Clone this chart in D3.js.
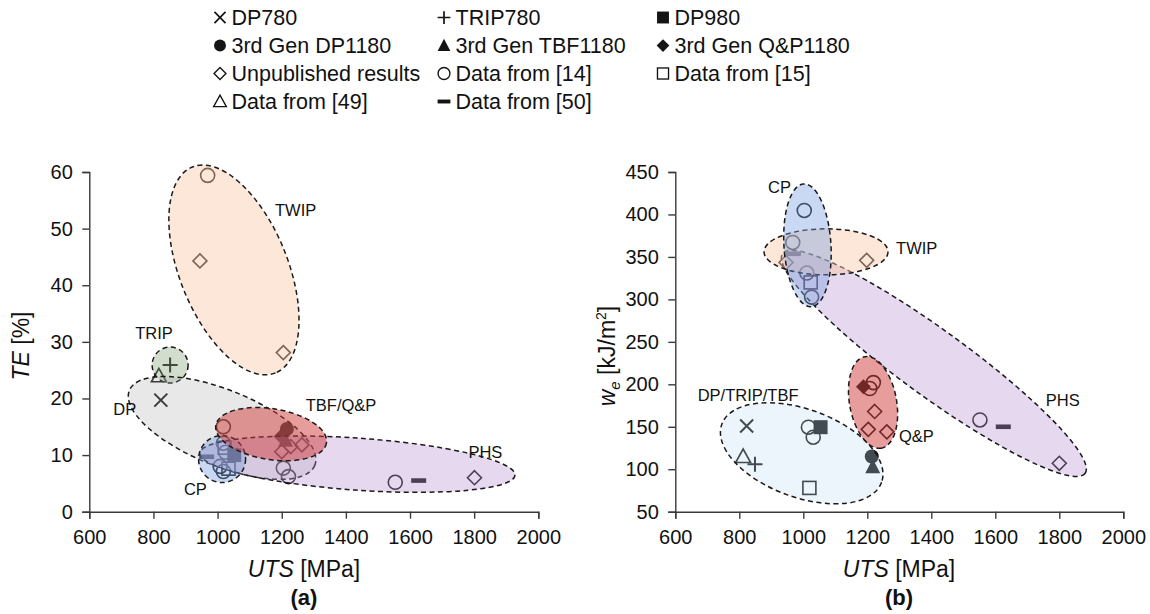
<!DOCTYPE html>
<html><head><meta charset="utf-8">
<script src="https://cdn.jsdelivr.net/npm/d3@7"></script>
<style>
body{margin:0;background:#fff}
text{font-family:"Liberation Sans",Arial,sans-serif;fill:#111}
</style>
</head><body>
<svg id="c" width="1150" height="614"></svg>
<script>
// ---------------- DATA ----------------
const xTicks = [600, 800, 1000, 1200, 1400, 1600, 1800, 2000];
const teTicks = [0, 10, 20, 30, 40, 50, 60];
const weTicks = [50, 100, 150, 200, 250, 300, 350, 400, 450];

const seriesNames = ["DP780", "TRIP780", "DP980", "3rd Gen DP1180", "3rd Gen TBF1180",
  "3rd Gen Q&P1180", "Unpublished results", "Data from [14]", "Data from [15]",
  "Data from [49]", "Data from [50]"];

// [UTS (MPa), TE (%)]
const teDP780 = [[823, 19.7]];
const teTRIP780 = [[852, 25.9]];
const teDP980 = [[1052, 10]];
const teDP1180 = [[1216, 14.6]];
const teTBF1180 = [[1212, 12.6]];
const teQP1180 = [[1198, 13.3]];
const teUnpub = [[945, 44.3], [1205, 28.1], [1200, 10.6], [1228, 11.5], [1263, 11.8], [1801, 6]];
const teData14 = [[969, 59.4], [1018, 15], [1018, 12.1], [1025, 10.5], [1008, 8], [1018, 7.1], [1205, 7.7], [1221, 6.2], [1554, 5.2]];
const teData15 = [[1022, 11.3], [1034, 7.6]];
const teData49 = [[817, 24]];
const teData50 = [[966, 9.7], [1627, 5.5]];

// [UTS (MPa), w_e (kJ/m2)]
const weDP780 = [[823, 151]];
const weTRIP780 = [[849, 106]];
const weDP980 = [[1054, 149.5]];
const weDP1180 = [[1214, 115]];
const weTBF1180 = [[1217, 103]];
const weQP1180 = [[1188, 197]];
const weUnpub = [[946, 343.5], [1198, 346], [1223, 168], [1203, 147], [1261, 144], [1800, 107]];
const weData14 = [[1003, 404.7], [967, 367], [1011, 331], [1026, 302.7], [1016, 149.5], [1031, 137.7], [1219, 202], [1208, 195], [1552, 158]];
const weData15 = [[1023, 320], [1019, 78]];
const weData49 = [[812, 115]];
const weData50 = [[969, 353.7], [1625, 150]];

// region groups (ellipse centres in data units)
const teRegionNames = ["TWIP", "TRIP", "DP", "PHS", "CP", "TBF/Q&P"];
const teRegionCenters = [[1051, 42.7], [852, 25.9], [1014, 14.8], [1436, 8.4], [1014, 9.3], [1167, 13.7]];
const teRegionLabelAt = [[1179, 52.2], [743, 30.5], [675, 17], [1782, 9.5], [895, 3.0], [1275, 17.8]];

const weRegionNames = ["DP/TRIP/TBF", "PHS", "Q&P", "TWIP", "CP"];
const weRegionCenters = [[995, 118.8], [1408, 224.7], [1218, 178.7], [1071, 356], [1013, 363.7]];
const weRegionLabelAt = [[670, 180.5], [1758, 175], [1299, 132], [1290, 353], [890, 425.6]];

// ---------------- STYLE ----------------
const shapes = ["x", "plus", "squareF", "circleF", "triangleF", "diamondF", "diamond", "circle", "square", "triangle", "dash"];
const teShapesGeom = { // rx, ry (px), rotation (deg), fill, opacity
  "TWIP": [111, 54, 68, "#f8c9a8", 0.45],
  "TRIP": [18, 18, 0, "#8ca57d", 0.38],
  "DP": [100, 38, 22, "#aaaaaa", 0.27],
  "PHS": [158, 26, 4, "#b48fd0", 0.35],
  "CP": [23.5, 23.5, 0, "#78a0e1", 0.4],
  "TBF/Q&P": [56, 25.5, 9, "#d23c3c", 0.5]
};
const weShapesGeom = {
  "DP/TRIP/TBF": [85, 44, 20, "#bedcf5", 0.28],
  "PHS": [187, 33, 36, "#b48fd0", 0.35],
  "Q&P": [46.5, 23.5, 79.7, "#d23c3c", 0.5],
  "TWIP": [62, 23, 0, "#f8c9a8", 0.45],
  "CP": [61.5, 23.5, 86.5, "#78a0e1", 0.4]
};

const svg = d3.select("#c");
const INK = "#141414";

function marker(g, shape, x, y, s) {
  s = s || 1;
  const gg = g.append("g").attr("transform", `translate(${x},${y}) scale(${s})`);
  const sw = 1.6;
  switch (shape) {
    case "x": gg.append("path").attr("d", "M-6.5,-6.5L6.5,6.5M-6.5,6.5L6.5,-6.5").attr("stroke", INK).attr("stroke-width", 2).attr("fill", "none"); break;
    case "plus": gg.append("path").attr("d", "M-7.5,0H7.5M0,-7.5V7.5").attr("stroke", INK).attr("stroke-width", 2).attr("fill", "none"); break;
    case "squareF": gg.append("rect").attr("x", -7).attr("y", -7).attr("width", 14).attr("height", 14).attr("fill", INK); break;
    case "circleF": gg.append("circle").attr("r", 7).attr("fill", INK); break;
    case "triangleF": gg.append("path").attr("d", "M0,-8L7.5,6.5L-7.5,6.5Z").attr("fill", INK); break;
    case "diamondF": gg.append("path").attr("d", "M0,-7.5L7.5,0L0,7.5L-7.5,0Z").attr("fill", INK); break;
    case "diamond": gg.append("path").attr("d", "M0,-7L7,0L0,7L-7,0Z").attr("fill", "none").attr("stroke", INK).attr("stroke-width", sw); break;
    case "circle": gg.append("circle").attr("r", 7).attr("fill", "none").attr("stroke", INK).attr("stroke-width", sw); break;
    case "square": gg.append("rect").attr("x", -6.5).attr("y", -6.5).attr("width", 13).attr("height", 13).attr("fill", "none").attr("stroke", INK).attr("stroke-width", sw); break;
    case "triangle": gg.append("path").attr("d", "M0,-7.5L7.5,6L-7.5,6Z").attr("fill", "none").attr("stroke", INK).attr("stroke-width", sw); break;
    case "dash": gg.append("rect").attr("x", -7.5).attr("y", -2.3).attr("width", 15).attr("height", 4.6).attr("fill", INK); break;
  }
}

function drawPanel(opt) {
  const x = d3.scaleLinear().domain([600, 2000]).range(opt.xr);
  const y = d3.scaleLinear().domain(opt.yd).range([511.7, 172]);
  const g = svg.append("g");

  // markers (drawn under translucent regions)
  const mg = g.append("g");
  opt.series.forEach((pts, i) => {
    pts.forEach(p => marker(mg, shapes[i], x(p[0]), y(p[1])));
  });

  // regions
  const rg = g.append("g");
  opt.regNames.forEach((n, i) => {
    const c = opt.regCenters[i];
    const gm = opt.geom[n];
    rg.append("ellipse")
      .attr("transform", `translate(${x(c[0])},${y(c[1])}) rotate(${gm[2]})`)
      .attr("rx", gm[0]).attr("ry", gm[1])
      .attr("fill", gm[3]).attr("fill-opacity", gm[4])
      .attr("stroke", "#1a1a1a").attr("stroke-width", 1.5)
      .attr("stroke-dasharray", "5,3.5");
  });
  opt.regNames.forEach((n, i) => {
    const l = opt.regLabels[i];
    g.append("text").attr("x", x(l[0])).attr("y", y(l[1]))
      .attr("font-size", 16.5).text(n);
  });

  // axes
  const xa = g.append("g").attr("transform", "translate(0,511.7)")
    .call(d3.axisBottom(x).tickValues(xTicks).tickSize(7).tickPadding(6).tickFormat(d3.format("d")));
  const ya = g.append("g").attr("transform", `translate(${opt.xr[0]},0)`)
    .call(d3.axisLeft(y).tickValues(opt.yTicks).tickSize(7).tickPadding(9.5).tickFormat(d3.format("d")));
  [xa, ya].forEach(a => {
    a.select(".domain").attr("stroke", "#3a3a3a").attr("stroke-width", 1.4);
    a.selectAll(".tick line").attr("stroke", "#3a3a3a").attr("stroke-width", 1.4);
    a.selectAll(".tick text").attr("font-size", 20).attr("fill", "#111")
      .attr("font-family", '"Liberation Sans",Arial,sans-serif');
  });
  xa.selectAll(".tick text").attr("dy", "0.95em");

  // x title
  const xt = g.append("text").attr("x", opt.xTitleX).attr("y", 577).attr("text-anchor", "middle").attr("font-size", 23);
  xt.append("tspan").attr("font-style", "italic").text("UTS");
  xt.append("tspan").text(" [MPa]");
  g.append("text").attr("x", opt.xTitleX).attr("y", 605).attr("text-anchor", "middle")
    .attr("font-size", 22).attr("font-weight", "bold").text(opt.panel);
  return g;
}

drawPanel({
  xr: [89.3, 538.3], yd: [0, 60], yTicks: teTicks,
  series: [teDP780, teTRIP780, teDP980, teDP1180, teTBF1180, teQP1180, teUnpub, teData14, teData15, teData49, teData50],
  regNames: teRegionNames, regCenters: teRegionCenters, regLabels: teRegionLabelAt, geom: teShapesGeom,
  xTitleX: 304, panel: "(a)"
});
drawPanel({
  xr: [675.3, 1123.3], yd: [50, 450], yTicks: weTicks,
  series: [weDP780, weTRIP780, weDP980, weDP1180, weTBF1180, weQP1180, weUnpub, weData14, weData15, weData49, weData50],
  regNames: weRegionNames, regCenters: weRegionCenters, regLabels: weRegionLabelAt, geom: weShapesGeom,
  xTitleX: 899, panel: "(b)"
});

// y titles
const yt1 = svg.append("text").attr("transform", "translate(29,346) rotate(-90)").attr("text-anchor", "middle").attr("font-size", 23);
yt1.append("tspan").attr("font-style", "italic").text("TE");
yt1.append("tspan").text(" [%]");
const yt2 = svg.append("text").attr("transform", "translate(615,356) rotate(-90)").attr("text-anchor", "middle").attr("font-size", 23);
yt2.append("tspan").attr("font-style", "italic").text("w");
yt2.append("tspan").attr("font-style", "italic").attr("font-size", 15).attr("dy", 5).text("e");
yt2.append("tspan").attr("dy", -5).text(" [kJ/m");
yt2.append("tspan").attr("font-size", 14).attr("dy", -9).text("2");
yt2.append("tspan").attr("dy", 9).text("]");

// legend
const legCols = [220, 444, 663];
const legRows = [17.5, 45.5, 73.5, 101.5];
const lg = svg.append("g");
seriesNames.forEach((n, i) => {
  const cx = legCols[i % 3], cy = legRows[Math.floor(i / 3)];
  marker(lg, shapes[i], cx, cy, 0.85);
  lg.append("text").attr("x", cx + 11.5).attr("y", cy).attr("dy", "0.36em")
    .attr("font-size", 21.5).text(n);
});
</script>
</body></html>
